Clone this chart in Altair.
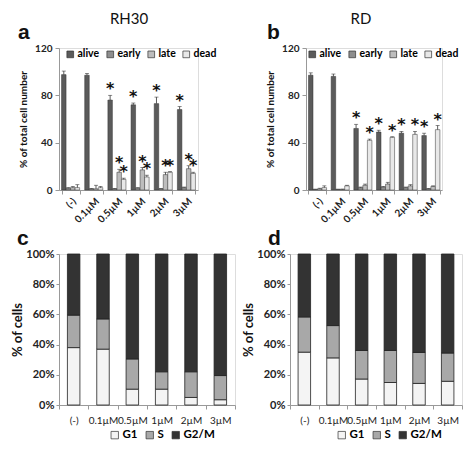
import altair as alt
import pandas as pd

cats = ["(-)", "0.1µM", "0.5µM", "1µM", "2µM", "3µM"]
groups = ["alive", "early", "late", "dead"]
group_colors = ["#5b5b5b", "#8e8e8e", "#bdbdbd", "#e8e8e8"]

# Panel a: RH30 apoptosis (% of total cell number)
rh30_alive = [97.5, 97, 76, 72, 73, 68]
rh30_alive_err = [3, 1.5, 4, 1.5, 5.5, 2.5]
rh30_early = [1.5, 1, 1, 1.5, 1, 2]
rh30_early_err = [0.5, 0.3, 0.3, 0.5, 0.3, 0.5]
rh30_late = [2, 1, 15, 17, 13, 18]
rh30_late_err = [1, 3, 2.5, 2, 2, 2.5]
rh30_dead = [2, 2, 9, 11, 15, 14]
rh30_dead_err = [2.5, 1, 1, 1.5, 0.5, 1]
rh30_sig_alive = [0, 0, 1, 1, 1, 1]
rh30_sig_early = [0, 0, 0, 0, 0, 0]
rh30_sig_late = [0, 0, 1, 1, 1, 1]
rh30_sig_dead = [0, 0, 1, 1, 1, 1]

# Panel b: RD apoptosis
rd_alive = [97, 96, 52, 49, 48, 46]
rd_alive_err = [2, 2, 3.5, 1.5, 1.5, 2]
rd_early = [0.5, 0.5, 2, 2.5, 2, 1]
rd_early_err = [0.2, 0.2, 0.5, 0.5, 0.5, 0.3]
rd_late = [1, 0.5, 4, 5, 3.5, 3]
rd_late_err = [0.5, 0.3, 1, 1.5, 1, 0.5]
rd_dead = [2, 3.5, 42, 44.5, 47, 51]
rd_dead_err = [1.5, 0.5, 1, 0.5, 2.5, 3.5]
rd_sig_alive = [0, 0, 1, 1, 1, 1]
rd_sig_early = [0, 0, 0, 0, 0, 0]
rd_sig_late = [0, 0, 0, 0, 0, 0]
rd_sig_dead = [0, 0, 1, 1, 1, 1]

# Panels c/d: cell cycle (% of cells)
phases = ["G1", "S", "G2/M"]
phase_colors = ["#f4f4f4", "#a8a8a8", "#333333"]
rh30_g1 = [38, 37, 10.5, 10.5, 5, 3.5]
rh30_s = [21.5, 20, 20, 11.5, 17, 16]
rd_g1 = [35, 31.2, 17.2, 14.9, 14.3, 15.7]
rd_s = [23.3, 21.4, 18.9, 21.2, 20.5, 18.7]

FONT = "Lato"
TOP_H = 142
BOT_H = 151


def apop_df(vals, errs, sigs):
    rows = []
    for g, v, e, s in zip(groups, vals, errs, sigs):
        for i, c in enumerate(cats):
            rows.append({"cat": c, "group": g, "value": v[i], "top": v[i] + e[i], "sig": s[i]})
    return pd.DataFrame(rows)


def apop_panel(df, title, letter, title_x, letter_x, width, legend_x):
    xenc = alt.X("cat:N", sort=cats, title=None,
                 scale=alt.Scale(paddingInner=0.22, paddingOuter=0.11),
                 axis=alt.Axis(labelAngle=-45, labelFontWeight="bold", labelFontSize=10,
                               labelColor="#222", tickBand="extent", tickSize=4,
                               domainColor="#999", tickColor="#999", labelPadding=2,
                               labelFont=FONT))
    xoff = alt.XOffset("group:N", sort=groups, scale=alt.Scale(paddingInner=0))
    base = alt.Chart(df).encode(x=xenc, xOffset=xoff)
    bars = base.mark_bar(stroke="#333", strokeWidth=0.5).encode(
        y=alt.Y("value:Q", scale=alt.Scale(domain=[0, 120]),
                title="% of total cell number",
                axis=alt.Axis(values=[0, 20, 40, 60, 80, 100, 120], grid=False,
                              labelFontWeight="bold", labelFontSize=10, labelColor="#222",
                              titleFontWeight="bold", titleFontSize=10, titleColor="#111",
                              domainColor="#999", tickColor="#999", tickSize=4,
                              labelPadding=3, titlePadding=6, labelFont=FONT, titleFont=FONT)),
        color=alt.Color("group:N", sort=groups,
                        scale=alt.Scale(domain=groups, range=group_colors),
                        legend=alt.Legend(orient="none", legendX=legend_x, legendY=1,
                                          direction="horizontal", title=None,
                                          symbolType="square", symbolSize=45,
                                          symbolStrokeColor="#333", symbolStrokeWidth=0.7,
                                          labelFontWeight="bold", labelFontSize=10.5,
                                          labelFont=FONT, columnPadding=5, labelOffset=2,
                                          padding=0)),
    )
    err = base.mark_rule(color="#333", strokeWidth=0.8).encode(y="value:Q", y2="top:Q")
    cap = base.mark_tick(color="#333", thickness=0.8, size=4).encode(y="top:Q")
    star = base.transform_filter(alt.datum.sig == 1).mark_text(
        text="*", fontSize=16, fontWeight="bold", baseline="middle", dy=-6,
        font="DejaVu Sans", color="#111").encode(y="top:Q")
    lab = alt.Chart(pd.DataFrame({"t": [title]})).mark_text(
        fontSize=15, font=FONT, align="center", baseline="alphabetic", color="#111"
    ).encode(text="t:N", x=alt.value(title_x), y=alt.value(-24))
    let = alt.Chart(pd.DataFrame({"t": [letter]})).mark_text(
        fontSize=21, font="Liberation Sans", fontWeight="bold", align="left",
        baseline="alphabetic", color="#111"
    ).encode(text="t:N", x=alt.value(letter_x), y=alt.value(-9))
    return alt.layer(bars, err, cap, star, lab, let).properties(width=width, height=TOP_H)


def cycle_df(g1, s):
    rows = []
    for i, c in enumerate(cats):
        vals = [g1[i], s[i], 100 - g1[i] - s[i]]
        for k, (p, v) in enumerate(zip(phases, vals)):
            rows.append({"cat": c, "phase": p, "value": v / 100.0, "ord": k})
    return pd.DataFrame(rows)


def cycle_panel(df, letter, letter_x, width, legend_x):
    bars = alt.Chart(df).mark_bar(stroke="#222", strokeWidth=0.8, width=12.5).encode(
        x=alt.X("cat:N", sort=cats, title=None,
                scale=alt.Scale(paddingInner=0, paddingOuter=0),
                axis=alt.Axis(labelAngle=0, labelFontSize=10, labelColor="#222",
                              tickBand="extent", tickSize=4, domainColor="#999",
                              tickColor="#999", labelPadding=6, labelFont=FONT)),
        y=alt.Y("value:Q", stack="zero", scale=alt.Scale(domain=[0, 1]),
                title="% of cells",
                axis=alt.Axis(format="%", values=[0, 0.2, 0.4, 0.6, 0.8, 1.0], grid=False,
                              labelFontWeight="bold", labelFontSize=11, labelColor="#222",
                              titleFontWeight="bold", titleFontSize=13, titleColor="#111",
                              domainColor="#999", tickColor="#999", tickSize=3,
                              labelPadding=2, titlePadding=1, labelFont=FONT, titleFont=FONT)),
        color=alt.Color("phase:N", sort=phases,
                        scale=alt.Scale(domain=phases, range=phase_colors),
                        legend=alt.Legend(orient="none", legendX=legend_x, legendY=BOT_H + 24,
                                          direction="horizontal", title=None,
                                          symbolType="square", symbolSize=55,
                                          symbolStrokeColor="#333", symbolStrokeWidth=0.7,
                                          labelFontWeight="bold", labelFontSize=11.5,
                                          labelFont=FONT, columnPadding=6, labelOffset=2,
                                          padding=0)),
        order=alt.Order("ord:Q", sort="ascending"),
    )
    let = alt.Chart(pd.DataFrame({"t": [letter]})).mark_text(
        fontSize=21, font="Liberation Sans", fontWeight="bold", align="left",
        baseline="alphabetic", color="#111"
    ).encode(text="t:N", x=alt.value(letter_x), y=alt.value(-9))
    return alt.layer(bars, let).properties(width=width, height=BOT_H)


pa = apop_panel(apop_df([rh30_alive, rh30_early, rh30_late, rh30_dead],
                        [rh30_alive_err, rh30_early_err, rh30_late_err, rh30_dead_err],
                        [rh30_sig_alive, rh30_sig_early, rh30_sig_late, rh30_sig_dead]),
                "RH30", "a", 70, -41, 139, 6)
pb = apop_panel(apop_df([rd_alive, rd_early, rd_late, rd_dead],
                        [rd_alive_err, rd_early_err, rd_late_err, rd_dead_err],
                        [rd_sig_alive, rd_sig_early, rd_sig_late, rd_sig_dead]),
                "RD", "b", 55, -39, 136, 1)
pc = cycle_panel(cycle_df(rh30_g1, rh30_s), "c", -42, 176, 50)
pd_ = cycle_panel(cycle_df(rd_g1, rd_s), "d", -22, 172, 46)

top = alt.hconcat(pa, pb, spacing=47).resolve_scale(color="independent")
bottom = alt.hconcat(pc, pd_, spacing=6).resolve_scale(color="independent")
chart = alt.vconcat(top, bottom, spacing=2).resolve_scale(color="independent").properties(
    padding={"top": 3, "left": 3, "right": 0, "bottom": 0}
).configure_view(stroke=None).configure(font=FONT)

chart.save("out.html", embed_options={"renderer": "svg", "actions": False})
